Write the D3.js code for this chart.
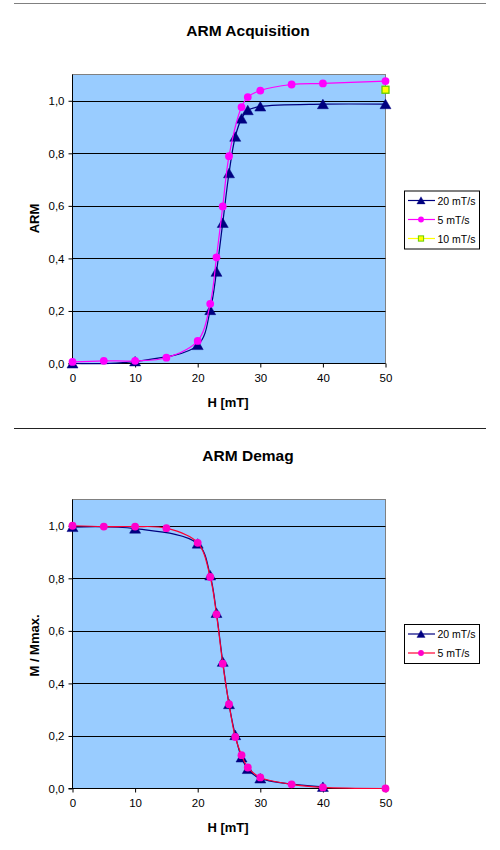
<!DOCTYPE html>
<html>
<head>
<meta charset="utf-8">
<script src="https://cdn.jsdelivr.net/npm/d3@7"></script>
<style>
  body { margin: 0; background: #fff; }
  svg text { font-family: "Liberation Sans", Arial, sans-serif; }
</style>
</head>
<body>
<div id="chart"></div>
<script>
// ---- data ----
// ARM Acquisition
let acqH20 = [0, 10, 20, 22, 23, 24, 25, 26, 27, 28, 30, 40, 50];
let acqM20 = [0.0, 0.008, 0.07, 0.203, 0.349, 0.535, 0.724, 0.863, 0.932, 0.964, 0.978, 0.987, 0.987];
let acqH5 = [0, 5, 10, 15, 20, 22, 23, 24, 25, 27, 28, 30, 35, 40, 50];
let acqM5 = [0.006, 0.01, 0.01, 0.022, 0.086, 0.227, 0.404, 0.598, 0.789, 0.976, 1.014, 1.039, 1.062, 1.066, 1.075];
let acqH10 = [50];
let acqM10 = [1.042];

// ARM Demag
let demH20 = [0, 10, 20, 22, 23, 24, 25, 26, 27, 28, 30, 40];
let demM20 = [0.995, 0.989, 0.932, 0.811, 0.668, 0.482, 0.321, 0.203, 0.118, 0.074, 0.038, 0.006];
let demH5 = [0, 5, 10, 15, 20, 22, 23, 24, 25, 26, 27, 28, 30, 35, 40, 50];
let demM5 = [1.0, 0.997, 0.997, 0.991, 0.935, 0.805, 0.663, 0.475, 0.321, 0.196, 0.127, 0.08, 0.042, 0.016, 0.004, 0.0];

let xTicks = [0, 10, 20, 30, 40, 50];
let yTicks = [0, 0.2, 0.4, 0.6, 0.8, 1.0];

let svg = d3.select("#chart").append("svg")
	.attr("width", 500)
	.attr("height", 850);

// separator rules
svg.append("line").attr("x1", 14).attr("x2", 486).attr("y1", 3.5).attr("y2", 3.5)
	.attr("stroke", "#808080").attr("stroke-width", 1);
svg.append("line").attr("x1", 14).attr("x2", 486).attr("y1", 428.5).attr("y2", 428.5)
	.attr("stroke", "#222").attr("stroke-width", 1);

let zip = (xs, ys) => xs.map((x, i) => ({h: x, m: ys[i]}));

function triangle(g) {
	g.append("path").attr("d", "M0,-5L5.5,4.5L-5.5,4.5Z")
		.attr("fill", "#000080").attr("stroke", "#000080").attr("stroke-width", 0.5);
}
function circle(color) {
	return g => g.append("circle").attr("r", 3.9).attr("fill", color);
}
function square(g) {
	g.append("rect").attr("x", -3.5).attr("y", -3.5).attr("width", 7).attr("height", 7)
		.attr("fill", "#ffff00").attr("stroke", "#66cc00").attr("stroke-width", 1.3);
}

function drawChart(cfg) {
	let left = 72.5, right = 385.5;
	let top = cfg.top, bottom = cfg.top + 289;

	let x = d3.scaleLinear().domain([0, 50]).range([left, right]);
	let y = d3.scaleLinear().domain([0, 1.1]).range([bottom, top]);

	let g = svg.append("g");

	// title
	g.append("text")
		.attr("x", 248).attr("y", cfg.top - 39)
		.attr("text-anchor", "middle")
		.style("font-size", "15.5px").style("font-weight", "bold")
		.text(cfg.title);

	// plot area
	g.append("rect")
		.attr("x", left).attr("y", top)
		.attr("width", right - left).attr("height", bottom - top)
		.attr("fill", "#99ccff").attr("stroke", "#808080").attr("stroke-width", 1);

	// gridlines
	g.selectAll(".grid").data(yTicks.filter(d => d > 0)).enter()
		.append("line")
		.attr("x1", left).attr("x2", right)
		.attr("y1", d => Math.round(y(d)) + 0.5).attr("y2", d => Math.round(y(d)) + 0.5)
		.attr("stroke", "#000").attr("stroke-width", 1);

	// axes
	let yAxis = d3.axisLeft(y).tickValues(yTicks)
		.tickFormat(d => d3.format(".1f")(d).replace(".", ","))
		.tickSize(4).tickPadding(4);
	let xAxis = d3.axisBottom(x).tickValues(xTicks)
		.tickFormat(d3.format("d"))
		.tickSize(4).tickPadding(6);

	let ya = g.append("g").attr("transform", "translate(" + left + ",0)").call(yAxis);
	let xa = g.append("g").attr("transform", "translate(0," + bottom + ")").call(xAxis);
	[ya, xa].forEach(a => {
		a.select(".domain").remove();
		a.selectAll("line").attr("stroke", "#000");
		a.selectAll("text").style("font-size", "11.5px").attr("fill", "#000")
			.style("font-family", "'Liberation Sans', Arial, sans-serif");
	});
	g.append("line").attr("x1", left).attr("x2", left).attr("y1", top).attr("y2", bottom)
		.attr("stroke", "#000");
	g.append("line").attr("x1", left - 4).attr("x2", right).attr("y1", bottom).attr("y2", bottom)
		.attr("stroke", "#000");

	// axis titles
	g.append("text")
		.attr("x", 228).attr("y", bottom + 43)
		.attr("text-anchor", "middle")
		.style("font-size", "13px").style("font-weight", "bold")
		.text("H [mT]");
	g.append("text")
		.attr("transform", "translate(39," + (cfg.top + cfg.yLabelOffset) + ") rotate(-90)")
		.attr("text-anchor", "middle")
		.style("font-size", "13px").style("font-weight", "bold")
		.text(cfg.yLabel);

	// series
	let line = d3.line()
		.x(d => x(d.h))
		.y(d => y(d.m))
		.curve(d3.curveCatmullRom.alpha(0.5));

	cfg.series.forEach(s => {
		let pts = zip(s.h, s.m);
		if (pts.length > 1) {
			g.append("path")
				.datum(pts)
				.attr("d", line)
				.attr("fill", "none")
				.attr("stroke", s.line)
				.attr("stroke-width", 1.2);
		}
		g.selectAll(null).data(pts).enter()
			.append("g")
			.attr("transform", d => "translate(" + x(d.h) + "," + y(d.m) + ")")
			.each(function () { s.marker(d3.select(this)); });
	});

	// legend
	let lg = g.append("g");
	let lh = cfg.series.length * 19 + 1;
	lg.append("rect")
		.attr("x", 404.5).attr("y", cfg.legendTop + 0.5)
		.attr("width", 75).attr("height", lh)
		.attr("fill", "#fff").attr("stroke", "#000").attr("stroke-width", 1);
	cfg.series.forEach((s, i) => {
		let cy = cfg.legendTop + 10 + i * 19;
		lg.append("line").attr("x1", 408).attr("x2", 435).attr("y1", cy).attr("y2", cy)
			.attr("stroke", s.line).attr("stroke-width", 1.2);
		let m = lg.append("g").attr("transform", "translate(421," + cy + ") scale(0.75)");
		s.marker(m);
		lg.append("text")
			.attr("x", 437.5).attr("y", cy + 4)
			.style("font-size", "10.5px")
			.text(s.name);
	});
}

drawChart({
	title: "ARM Acquisition",
	top: 74.5,
	yLabel: "ARM",
	yLabelOffset: 144,
	legendTop: 190.5,
	series: [
		{name: "20 mT/s", h: acqH20, m: acqM20, line: "#000080", marker: triangle},
		{name: "5 mT/s", h: acqH5, m: acqM5, line: "#ff00ff", marker: circle("#ff00ff")},
		{name: "10 mT/s", h: acqH10, m: acqM10, line: "#ffff00", marker: square}
	]
});

drawChart({
	title: "ARM Demag",
	top: 499.5,
	yLabel: "M / Mmax.",
	yLabelOffset: 146,
	legendTop: 624,
	series: [
		{name: "20 mT/s", h: demH20, m: demM20, line: "#000080", marker: triangle},
		{name: "5 mT/s", h: demH5, m: demM5, line: "#ff0033", marker: circle("#ff00cc")}
	]
});
</script>
</body>
</html>
